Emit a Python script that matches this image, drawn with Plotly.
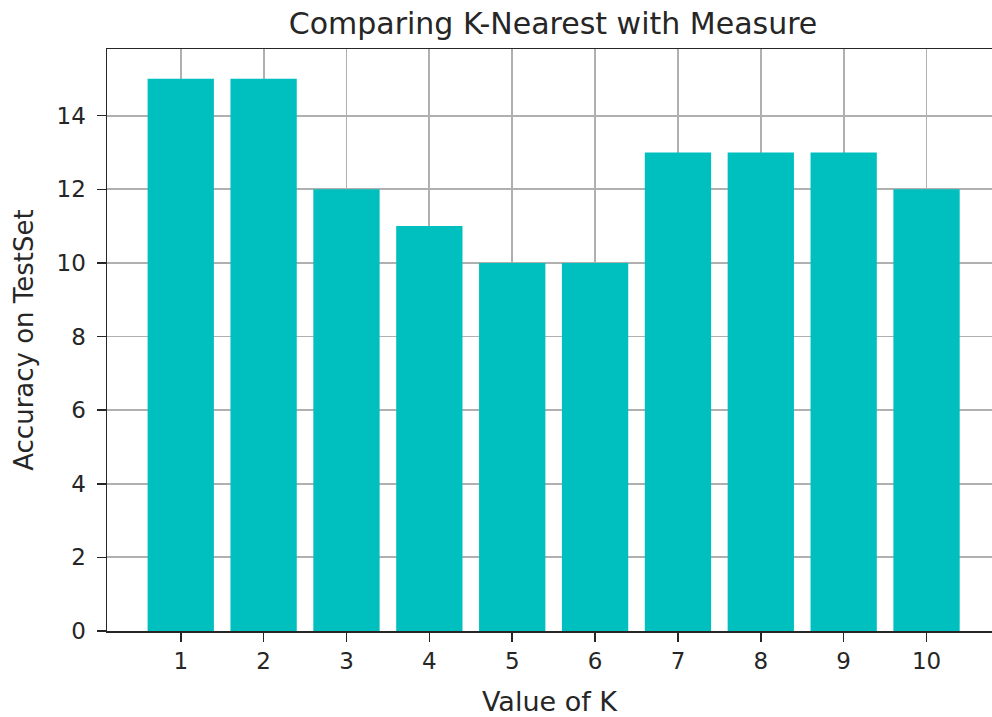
import plotly.graph_objects as go

k_values = [1, 2, 3, 4, 5, 6, 7, 8, 9, 10]
accuracy = [15, 15, 12, 11, 10, 10, 13, 13, 13, 12]
y_ticks = [0, 2, 4, 6, 8, 10, 12, 14]

FONT = "DejaVu Sans"
INK = "#262626"

fig = go.Figure()
fig.add_trace(go.Bar(x=k_values, y=accuracy, width=0.8, hoverinfo="skip",
                     marker=dict(color="#00bfbf", line=dict(width=0))))

fig.update_layout(
    width=992, height=717,
    paper_bgcolor="white", plot_bgcolor="white",
    margin=dict(l=107, r=0, t=49, b=86, pad=0),
    showlegend=False,
    font=dict(family=FONT, size=23, color=INK),
    title=dict(text="Comparing K-Nearest with Measure", x=553 / 992, xref="container",
               xanchor="center", y=1 - 23 / 717, yref="container", yanchor="middle",
               font=dict(family=FONT, size=30, color=INK)),
)
fig.update_xaxes(
    range=[0.11, 10.79], tickmode="array", tickvals=k_values,
    ticktext=[str(k) for k in k_values],
    showgrid=True, gridcolor="#b0b0b0", gridwidth=1.8,
    showline=True, linecolor=INK, linewidth=1.5, mirror=True,
    ticks="outside", ticklen=9, tickcolor=INK, tickwidth=1.5,
    zeroline=False, layer="above traces", automargin=False,
    title=dict(text="Value of K", font=dict(family=FONT, size=27), standoff=22),
)
fig.update_yaxes(
    range=[0, 15.81], tickmode="array", tickvals=y_ticks,
    showgrid=True, gridcolor="#b0b0b0", gridwidth=1.8,
    showline=True, linecolor=INK, linewidth=1.5, mirror=False,
    ticks="outside", ticklen=9, tickcolor=INK, tickwidth=1.5,
    zeroline=False, layer="above traces", ticklabelstandoff=6, automargin=False,
    title=dict(text="Accuracy on TestSet", font=dict(family=FONT, size=26), standoff=15),
)

fig.write_html("out.html",
               config={"displayModeBar": False, "staticPlot": True},
               post_script="document.body.style.margin='0';document.body.style.overflow='hidden';")
